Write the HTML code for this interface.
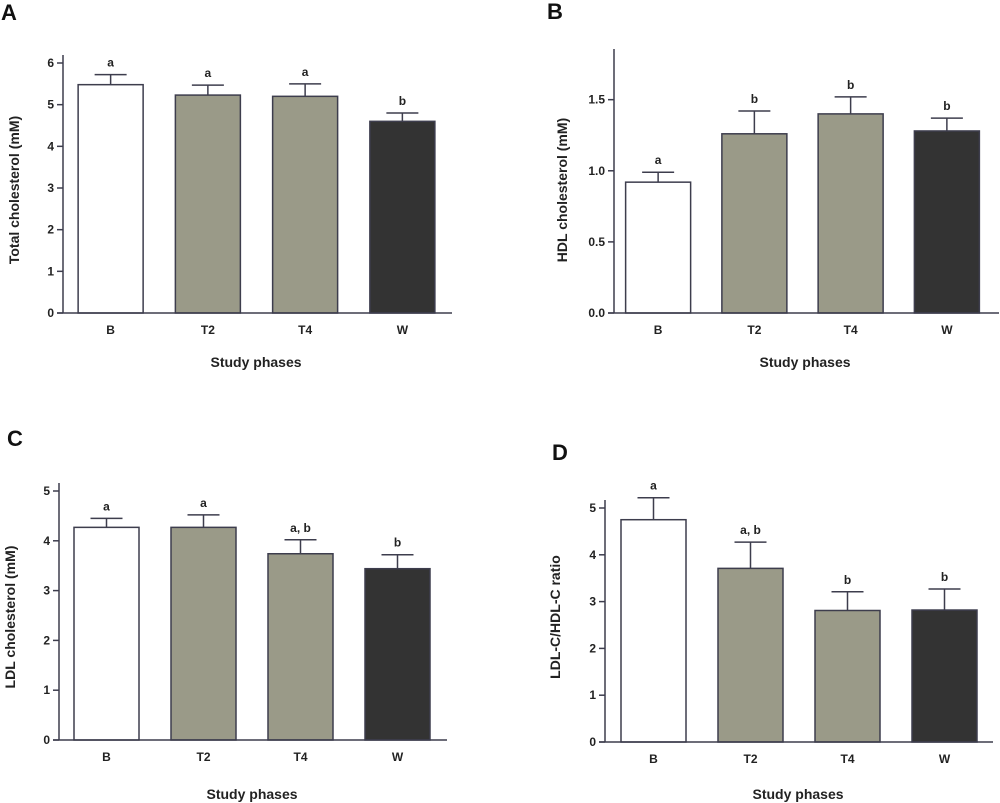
<!DOCTYPE html>
<html><head><meta charset="utf-8"><style>
body{margin:0;background:#fff;}
svg{display:block;font-family:"Liberation Sans",Arial,sans-serif;font-weight:bold;}
</style></head><body>
<svg id="fig" width="1000" height="803" viewBox="0 0 1000 803"></svg>
<script>
const categories = ["B","T2","T4","W"];
const totalMeans = [5.48,5.23,5.20,4.60];
const totalErrTop = [5.72,5.47,5.50,4.80];
const totalLetters = ["a","a","a","b"];
const totalTicks = ["0","1","2","3","4","5","6"];
const hdlMeans = [0.92,1.26,1.40,1.28];
const hdlErrTop = [0.99,1.42,1.52,1.37];
const hdlLetters = ["a","b","b","b"];
const hdlTicks = ["0.0","0.5","1.0","1.5"];
const ldlMeans = [4.27,4.27,3.74,3.44];
const ldlErrTop = [4.45,4.52,4.02,3.72];
const ldlLetters = ["a","a","a, b","b"];
const ldlTicks = ["0","1","2","3","4","5"];
const ratioMeans = [4.75,3.71,2.81,2.82];
const ratioErrTop = [5.22,4.27,3.21,3.27];
const ratioLetters = ["a","a, b","b","b"];
const ratioTicks = ["0","1","2","3","4","5"];

const fills = ["#ffffff","#9a9a88","#9a9a88","#333333"];
const NS = "http://www.w3.org/2000/svg";
const svg = document.getElementById("fig");
function mk(tag, attrs, parent){
  const e = document.createElementNS(NS, tag);
  for (const k in attrs) e.setAttribute(k, attrs[k]);
  (parent||svg).appendChild(e); return e;
}
function panel(p){
  const g = mk("g",{});
  
  
  const y = v => p.base - (v/p.ymax)*(p.base - p.top);
  const step = (p.xEnd - p.ax)/4;
  const xc = i => p.ax + step*(i+0.5) + p.shift;
  const stroke = "#3d3d4d";
  // panel letter
  const L = mk("text",{x:p.lx,y:p.ly,"font-size":22,fill:"#111"},g); L.textContent=p.letter;
   
  // bars
  p.means.forEach((m,i)=>{
    const bw = 65, x0 = xc(i)-bw/2;
    const e = mk("line",{x1:xc(i),x2:xc(i),y1:y(m),y2:y(p.err[i]),stroke:stroke,"stroke-width":1.5},g);
     
    const c = mk("line",{x1:xc(i)-16,x2:xc(i)+16,y1:y(p.err[i]),y2:y(p.err[i]),stroke:stroke,"stroke-width":1.5},g);
     
    const r = mk("rect",{x:x0,y:y(m),width:bw,height:p.base-y(m),fill:fills[i],stroke:stroke,"stroke-width":1.5},g);
     
    const t = mk("text",{x:xc(i),y:y(p.err[i])-8,"font-size":12,"text-anchor":"middle",fill:"#222"},g);
    t.textContent=p.letters[i];
     
    const cl = mk("text",{x:xc(i),y:p.base+21,"font-size":12,"text-anchor":"middle",fill:"#222"},g);
    cl.textContent=categories[i];
     
  });
  // axes
  const ya = mk("line",{x1:p.ax,x2:p.ax,y1:p.top-8,y2:p.base,stroke:stroke,"stroke-width":1.5},g);
   
  const xa = mk("line",{x1:p.ax-6,x2:p.xEnd,y1:p.base,y2:p.base,stroke:stroke,"stroke-width":1.5},g);
   
  p.ticks.forEach(tl=>{
    const v = parseFloat(tl);
    const tk = mk("line",{x1:p.ax-6,x2:p.ax,y1:y(v),y2:y(v),stroke:stroke,"stroke-width":1.5},g);
     
    const tt = mk("text",{x:p.ax-9,y:y(v)+4,"font-size":12,"text-anchor":"end",fill:"#222"},g);
    tt.textContent=tl;
     
  });
  const xt = mk("text",{x:p.xtx,y:p.xty,"font-size":14,"text-anchor":"middle",fill:"#222"},g);
  xt.textContent="Study phases";
   
  const yt = mk("text",{x:0,y:0,"font-size":14,"text-anchor":"middle",fill:"#222",transform:`translate(${p.ytx},${p.yty}) rotate(-90)`},g);
  yt.textContent=p.ytitle;
   
}
panel({name:"panel-a-total-cholesterol",letter:"A",lx:1,ly:20,ax:63,top:63,base:313,ymax:6,xEnd:452,shift:-1,
  means:totalMeans,err:totalErrTop,letters:totalLetters,ticks:totalTicks,xtx:256,xty:367,ytx:19,yty:190,ytitle:"Total cholesterol (mM)"});
panel({name:"panel-b-hdl-cholesterol",letter:"B",lx:547,ly:19,ax:614,top:57,base:313,ymax:1.8,xEnd:999,shift:-4,
  means:hdlMeans,err:hdlErrTop,letters:hdlLetters,ticks:hdlTicks,xtx:805,xty:367,ytx:567,yty:190,ytitle:"HDL cholesterol (mM)"});
panel({name:"panel-c-ldl-cholesterol",letter:"C",lx:7,ly:446,ax:59,top:491,base:740,ymax:5,xEnd:447,shift:-1,
  means:ldlMeans,err:ldlErrTop,letters:ldlLetters,ticks:ldlTicks,xtx:252,xty:799,ytx:15,yty:617,ytitle:"LDL cholesterol (mM)"});
panel({name:"panel-d-ldl-hdl-ratio",letter:"D",lx:552,ly:460,ax:605,top:508,base:742,ymax:5,xEnd:993,shift:0,
  means:ratioMeans,err:ratioErrTop,letters:ratioLetters,ticks:ratioTicks,xtx:798,xty:799,ytx:560,yty:617,ytitle:"LDL-C/HDL-C ratio"});
</script>
</body></html>
